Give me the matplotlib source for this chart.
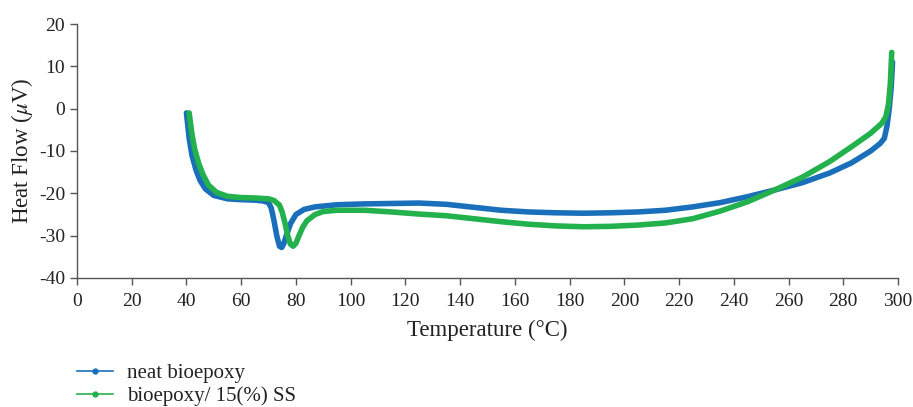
import numpy as np
import matplotlib.pyplot as plt
from matplotlib.lines import Line2D

plt.rcParams['font.family'] = ['Liberation Serif', 'DejaVu Serif']
plt.rcParams['mathtext.fontset'] = 'stix'
plt.rcParams['axes.unicode_minus'] = False

# neat bioepoxy
t_neat = [40, 40.5, 41, 42, 43.5, 45, 47, 50, 55, 60, 65, 68, 70, 71, 72, 73, 74, 74.8, 75.5,
          76.5, 78, 80, 83, 87, 95, 105, 115, 125, 135, 145, 155, 165, 175, 185, 195, 205,
          215, 225, 235, 245, 255, 265, 275, 283, 290, 293.5, 295, 296, 296.8, 297.5, 298]
hf_neat = [-1, -4, -7, -11, -14.5, -17, -19, -20.5, -21.3, -21.5, -21.6, -21.8, -22.2, -23.5, -26.5,
           -30, -32.5, -32.8, -32, -30, -27.2, -25, -23.8, -23.2, -22.7, -22.5, -22.4, -22.3, -22.6,
           -23.3, -24, -24.4, -24.6, -24.7, -24.6, -24.4, -24, -23.2, -22.2, -20.8, -19.2, -17.5,
           -15.2, -12.8, -10, -8.2, -7, -4, 0, 5, 11]

# bioepoxy/ 15(%) SS
t_ss = [41, 41.5, 42, 43, 44.5, 46, 48, 51, 55, 60, 65, 70, 72, 74, 75, 76, 77, 78, 79, 80,
        81, 82.5, 84, 87, 90, 95, 105, 115, 125, 135, 145, 155, 165, 175, 185, 195, 205, 215,
        225, 235, 245, 255, 265, 275, 283, 290, 294, 295.5, 296.5, 297.2, 297.7]
hf_ss = [-1, -3.5, -6, -9.5, -13, -15.5, -18, -19.8, -20.7, -21, -21.1, -21.3, -21.7, -22.8, -24.5,
         -27, -30, -32, -32.5, -31.8, -30.2, -28, -26.5, -25, -24.3, -24, -24, -24.4, -24.9,
         -25.3, -26, -26.7, -27.3, -27.7, -27.9, -27.8, -27.5, -27, -26, -24.2, -22, -19.2,
         -16.2, -12.5, -9, -5.8, -3.5, -2, 1, 6, 13.3]

blue = '#1a6fba'
green = '#22b14c'

fig = plt.figure(figsize=(9.13, 4.07), dpi=100)
ax = fig.add_axes([0.0843, 0.317, 0.8993, 0.624])

ax.plot(t_neat, hf_neat, color=blue, lw=4.0, solid_capstyle='round', solid_joinstyle='round')
ax.plot(t_ss, hf_ss, color=green, lw=4.0, solid_capstyle='round', solid_joinstyle='round')

ax.set_xlim(0, 300)
ax.set_ylim(-40, 20)
ax.set_xticks(np.arange(0, 301, 20))
ax.set_yticks(np.arange(-40, 21, 10))
ax.spines['top'].set_visible(False)
ax.spines['right'].set_visible(False)
for s in ['left', 'bottom']:
    ax.spines[s].set_color('#555555')
    ax.spines[s].set_linewidth(1.0)
ax.tick_params(direction='out', length=5, width=1.0, color='#555555', labelsize=14,
               labelcolor='#222222')
ax.tick_params(axis='x', pad=6)

ax.set_xlabel('Temperature (°C)', fontsize=16.5, color='#222222', labelpad=7)
ax.set_ylabel(r'Heat Flow ($\mu$V)', fontsize=16.5, color='#222222', labelpad=3)

handles = [Line2D([], [], color=blue, lw=1.2, marker='o', markersize=3.5),
           Line2D([], [], color=green, lw=1.2, marker='o', markersize=3.5)]
fig.legend(handles, ['neat bioepoxy', 'bioepoxy/ 15(%) SS'], loc='upper left',
           bbox_to_anchor=(0.0843, 0.106), frameon=False, fontsize=15,
           borderpad=0, borderaxespad=0, handlelength=1.75, labelspacing=0.15,
           handletextpad=0.65, labelcolor='#222222')

fig.savefig('out.png', dpi=100)
